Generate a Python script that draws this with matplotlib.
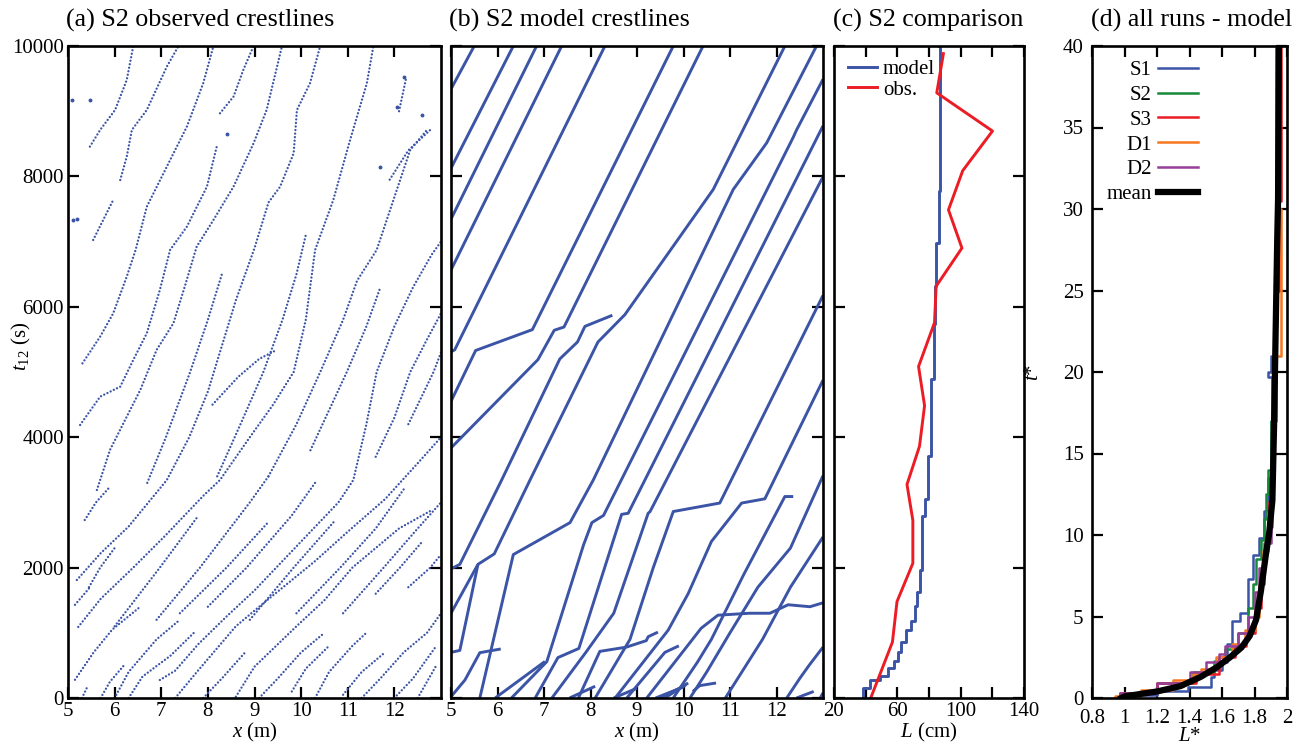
import matplotlib
matplotlib.use("Agg")
import matplotlib.pyplot as plt

plt.rcParams['font.family'] = ['Liberation Serif', 'DejaVu Serif']
plt.rcParams['mathtext.fontset'] = 'custom'
plt.rcParams['mathtext.rm'] = 'Liberation Serif'
plt.rcParams['mathtext.it'] = 'Liberation Serif:italic'

BLUE = '#3b54a6'
RED = '#ec1c24'

# (a) observed crestlines, (x m, t s) vertices
obs_lines = [
    [(5.15, 280), (5.55, 700), (5.95, 1050), (6.55, 1400)],
    [(5.22, 1090), (5.7, 1520), (6.4, 2000), (7.1, 2500), (7.9, 3100), (8.26, 3344), (8.9, 4000), (9.4, 4500), (9.84, 5000), (10.1, 5800), (10.30, 6872), (10.69, 7639), (11.05, 8559), (11.41, 9428), (11.55, 10000)],
    [(5.19, 1810), (5.7, 2220), (6.3, 2630), (7.12, 3344), (7.6, 4000), (8.0, 4700), (8.3, 5400), (8.6, 6100), (9.0, 6900), (9.3, 7600), (9.55, 7843), (9.84, 8355), (9.91, 9019), (10.19, 9428), (10.41, 10000)],
    [(5.36, 2730), (5.6, 3000), (5.9, 3240)],
    [(5.15, 1430), (5.45, 1680)],
    [(5.45, 1700), (5.69, 2000), (6.0, 2300)],
    [(6.0, 1100), (6.97, 2000), (7.8, 2800)],
    [(6.9, 1200), (7.83, 2000), (8.9, 3000), (9.3, 3400)],
    [(7.4, 1300), (8.4, 2000), (9.3, 2700)],
    [(8.0, 1400), (8.83, 2000), (9.8, 2800), (10.3, 3300)],
    [(8.9, 1200), (9.84, 2000), (10.7, 2700)],
    [(9.9, 1300), (10.84, 2000), (11.6, 2600), (12.2, 3200)],
    [(10.9, 1300), (11.77, 2000), (12.5, 2600), (13.0, 3000)],
    [(11.6, 1600), (12.12, 2000), (12.6, 2400)],
    [(12.3, 1700), (12.77, 2000), (13.0, 2200)],
    [(6.0, 0), (6.3, 400), (6.9, 900), (7.4, 1200)],
    [(6.3, 0), (6.6, 330), (7.2, 650), (7.7, 1000)],
    [(5.7, 0), (5.9, 250), (6.2, 500)],
    [(5.3, 0), (5.4, 150)],
    [(6.97, 276), (7.3, 420), (7.8, 830), (8.4, 1250), (9.0, 1650), (9.6, 2100), (10.2, 2550), (10.8, 3000), (11.12, 3344), (11.4, 4200), (11.62, 5000), (12.0, 5700), (12.4, 6300), (12.8, 6800), (13.0, 7000)],
    [(7.3, 0), (7.8, 430), (8.6, 1100), (9.1, 1400), (10.3, 2100), (11.0, 2550), (11.8, 3050), (12.5, 3600), (13.0, 4000)],
    [(7.9, 0), (8.3, 300), (8.8, 700)],
    [(8.6, 20), (9.0, 480), (9.9, 1100), (10.5, 1500), (11.1, 2000), (12.1, 2600), (12.8, 2880)],
    [(9.1, 0), (9.5, 300), (10.0, 700), (10.5, 1000)],
    [(9.8, 100), (10.1, 450), (10.6, 800)],
    [(10.3, 0), (10.6, 400), (11.1, 800), (11.4, 1000)],
    [(10.9, 50), (11.3, 400), (11.8, 700)],
    [(11.3, 0), (11.7, 300), (12.2, 700), (12.7, 1000), (13.0, 1300)],
    [(12.0, 0), (12.4, 300), (12.9, 800)],
    [(12.5, 0), (12.9, 500)],
    [(5.31, 5133), (5.69, 5543), (5.97, 5900), (6.26, 6463), (6.45, 6872), (6.69, 7536), (7.12, 8150), (7.55, 8764), (7.90, 9429), (8.12, 10000)],
    [(5.26, 4188), (5.69, 4622), (6.12, 4775), (6.40, 5185), (6.69, 5594), (6.97, 6258), (7.19, 6872), (7.55, 7230), (7.98, 7843), (8.19, 8457)],
    [(5.62, 3190), (5.90, 3804), (6.26, 4315), (6.55, 4724), (6.90, 5338), (7.26, 5747), (7.5, 6300), (7.76, 6923), (8.12, 7332), (8.55, 7843), (8.98, 8508), (9.26, 9019), (9.59, 10000)],
    [(6.7, 3300), (7.1, 4000), (7.62, 5000), (8.0, 5800), (8.3, 6500)],
    [(8.1, 4500), (8.65, 4925), (9.1, 5200), (9.48, 5340)],
    [(8.2, 3400), (8.7, 4200), (9.19, 5000), (9.6, 5800), (9.9, 6500), (10.1, 7100)],
    [(9.3, 3400), (9.9, 4200), (10.41, 5000), (10.9, 5800), (11.2, 6400), (11.62, 6872), (11.98, 7639), (12.34, 8406), (12.70, 8713)],
    [(10.2, 3800), (10.98, 5000), (11.4, 5700), (11.7, 6300)],
    [(11.6, 3700), (12.0, 4300), (12.34, 5000), (12.7, 5500), (13.0, 5900)],
    [(12.3, 4200), (12.84, 5000), (13.0, 5300)],
    [(5.47, 8457), (5.69, 8713), (6.01, 9019), (6.26, 9479), (6.40, 10000)],
    [(6.12, 7945), (6.26, 8303), (6.37, 8713), (6.69, 9019), (7.12, 9684), (7.37, 10000)],
    [(8.26, 8968), (8.55, 9224), (8.76, 9633), (8.98, 10000)],
    [(5.54, 7025), (5.97, 7639)],
    [(11.9, 7950), (12.3, 8400), (12.77, 8713)],
    [(12.1, 9000), (12.25, 9500)],
]
iso_x = [5.08, 5.47, 5.11, 5.2, 12.2, 12.05, 11.7, 8.4, 12.6]
iso_t = [9173, 9173, 7332, 7350, 9530, 9070, 8150, 8650, 8940]

# (b) model crestlines
mod_lines = [
    [(5.0, 9340), (5.50, 10000)],
    [(5.0, 8125), (6.34, 10000)],
    [(5.0, 7345), (6.84, 10000)],
    [(5.0, 6565), (7.38, 10000)],
    [(5.0, 5310), (5.08, 5340), (8.31, 10000)],
    [(5.0, 4550), (5.53, 5330), (6.75, 5650), (9.78, 10000)],
    [(5.0, 3835), (6.87, 5190), (7.22, 5640), (7.43, 5690), (10.42, 10000)],
    [(5.0, 700), (5.19, 730), (5.58, 2050)],
    [(5.0, 1300), (5.58, 2050), (5.93, 2210), (6.70, 3344), (8.16, 5460), (8.74, 5880), (10.64, 7800), (12.18, 10000)],
    [(5.0, 1980), (5.19, 2050), (6.09, 3344), (7.34, 5200), (7.72, 5460), (7.88, 5700), (8.47, 5870)],
    [(5.0, 20), (5.30, 276), (5.62, 695), (6.07, 752)],
    [(5.62, 0), (6.34, 2200), (7.56, 2690), (8.06, 3344), (11.07, 7800), (11.79, 8515), (12.86, 10000)],
    [(6.30, 0), (7.06, 557), (7.85, 2347), (8.03, 2690), (8.28, 2800), (12.36, 8600), (12.43, 8710), (13.0, 9490)],
    [(5.95, 0), (7.02, 560)],
    [(6.81, 0), (7.30, 620), (7.75, 760), (8.67, 2817), (8.81, 2833), (13.0, 8775)],
    [(7.17, 0), (7.9, 700), (8.5, 1300), (9.24, 2833), (9.28, 2858), (13.0, 7995)],
    [(7.74, 0), (8.20, 715), (8.77, 780), (9.20, 880), (9.24, 940), (9.45, 1010)],
    [(8.10, 0), (8.85, 900), (9.35, 2000), (9.78, 2860), (10.78, 2990), (13.0, 6175)],
    [(8.53, 0), (9.67, 1040), (10.1, 1600), (10.6, 2400), (11.25, 2990), (11.75, 3055), (13.0, 4875)],
    [(8.78, 0), (9.6, 700), (9.9, 800)],
    [(9.21, 0), (10.38, 1070), (10.74, 1270), (11.42, 1300), (11.86, 1300), (12.25, 1430), (12.72, 1400), (13.0, 1460)],
    [(9.78, 0), (10.3, 550), (10.6, 900), (11.3, 1900), (12.18, 3090), (12.36, 3090)],
    [(10.14, 0), (10.5, 400), (11.0, 1000), (11.6, 1700), (12.3, 2300), (13.0, 3410)],
    [(10.9, 0), (11.7, 900), (12.3, 1700), (13.0, 2470)],
    [(12.22, 0), (12.5, 300), (12.7, 500), (13.0, 780)],
    [(12.43, 0), (12.8, 100)],
    [(12.94, 0), (13.0, 80)],
    [(9.4, 0), (10.0, 170)],
    [(9.5, 0), (10.05, 200)],
    [(9.6, 0), (10.1, 230)],
    [(10.2, 100), (10.35, 190), (10.7, 230)],
    [(7.55, 0), (8.10, 180)],
    [(8.5, 0), (9.0, 150)],
]

# (c) comparison of crest spacing
model_L = [38.0, 42.6, 48.9, 54.1, 57.7, 60.4, 62.5, 65.7, 68.8, 70.9, 72.4, 74.0, 75.5, 77.2, 79.3, 81.4, 83.1, 83.5, 84.5, 86.0, 87.0, 86.6]
model_t = [0, 161, 271, 344, 454, 564, 711, 857, 1040, 1187, 1407, 1626, 1956, 2799, 3055, 3714, 4886, 5729, 6315, 6974, 7780, 10000]
obs_L = [43.2, 56.9, 59.8, 69.8, 69.8, 66.1, 74.0, 77.2, 73.4, 83.5, 84.5, 100.8, 92.3, 101.3, 120.1, 84.9, 89.1]
obs_t = [0, 857, 1480, 2066, 2725, 3275, 3861, 4484, 5084, 5758, 6315, 6901, 7487, 8088, 8696, 9282, 9883]

# (d) all runs, normalised
runs = ['S1', 'S2', 'S3', 'D1', 'D2']
run_colors = ['#3b54a6', '#17893b', '#ec1c24', '#f7771f', '#963f99']
run_L = [
    [0.97, 1.2, 1.39, 1.53, 1.55, 1.60, 1.63, 1.66, 1.71, 1.76, 1.79, 1.83, 1.86, 1.88, 1.90, 1.91, 1.885, 1.90, 1.935, 1.93, 1.935],
    [0.97, 1.2, 1.42, 1.55, 1.62, 1.70, 1.76, 1.79, 1.81, 1.84, 1.86, 1.87, 1.88, 1.90, 1.92, 1.93, 1.94, 1.95],
    [0.97, 1.2, 1.44, 1.58, 1.68, 1.75, 1.80, 1.84, 1.86, 1.87, 1.89, 1.91, 1.92, 1.93, 1.95, 1.96, 1.96],
    [0.94, 1.1, 1.3, 1.42, 1.47, 1.56, 1.66, 1.74, 1.80, 1.83, 1.85, 1.88, 1.90, 1.92, 1.93, 1.96, 1.95, 1.955],
    [0.97, 1.2, 1.4, 1.5, 1.58, 1.62, 1.70, 1.76, 1.80, 1.83, 1.86, 1.90, 1.91, 1.91, 1.92, 1.93, 1.94, 1.95],
]
run_t = [
    [0, 0.2, 0.4, 0.7, 1.3, 1.7, 2.2, 3.3, 4.7, 5.2, 7.3, 8.8, 9.8, 11.5, 13.5, 17.0, 19.7, 20.0, 21.0, 30.0, 40],
    [0, 0.3, 0.9, 1.6, 2.3, 3.0, 4.0, 5.5, 7.0, 8.5, 9.7, 11.0, 12.5, 14.0, 17, 22, 30, 40],
    [0, 0.3, 0.9, 1.5, 2.5, 3.2, 4.0, 5.5, 7.0, 8.5, 10.0, 12, 15, 17, 25, 30.5, 40],
    [0, 0.15, 0.5, 1.1, 1.5, 1.8, 2.5, 3.3, 4.2, 5.0, 7.0, 9.0, 11, 14, 18.5, 21, 30, 40],
    [0, 0.3, 0.9, 1.6, 2.2, 2.7, 3.2, 4.0, 5.0, 6.5, 8.0, 9.5, 10.5, 13, 15, 20, 30, 40],
]
mean_L = [0.98, 1.0, 1.2, 1.345, 1.47, 1.57, 1.65, 1.72, 1.77, 1.81, 1.84, 1.87, 1.89, 1.91, 1.92, 1.93, 1.94, 1.945, 1.95]
mean_t = [0, 0.1, 0.4, 0.73, 1.3, 1.9, 2.5, 3.1, 3.8, 4.8, 6.6, 8.8, 10.1, 12.1, 16.5, 22.4, 28.2, 30.6, 40]

fig = plt.figure(figsize=(12.97, 7.45), dpi=100)
W, H = 1297, 745
bot, hgt = 47 / H, 652 / H
ax_a = fig.add_axes([68 / W, bot, 373 / W, hgt])
ax_b = fig.add_axes([451 / W, bot, 372 / W, hgt])
ax_c = fig.add_axes([834 / W, bot, 190 / W, hgt])
ax_d = fig.add_axes([1092 / W, bot, 195 / W, hgt])


def style(ax, title):
    for s in ax.spines.values():
        s.set_linewidth(1.9)
    ax.tick_params(which='both', direction='in', top=True, right=True,
                   length=8, width=1.6, labelsize=15, pad=3)
    ax.set_title(title, fontsize=18.7, pad=14, loc='left', x=-0.005)


# (a)
for ln in obs_lines:
    xs = [p[0] for p in ln]
    ts = [p[1] for p in ln]
    ax_a.plot(xs, ts, color=BLUE, lw=1.7, ls=(0, (0.01, 1.5)),
              dash_capstyle='round')
ax_a.plot(iso_x, iso_t, 'o', color=BLUE, ms=1.8, ls='none')
ax_a.set_xlim(5, 13)
ax_a.set_ylim(0, 10000)
ax_a.set_xticks(range(5, 13))
ax_a.set_yticks(range(0, 10001, 2000))
ax_a.set_xlabel('$x$ (m)', fontsize=15, labelpad=0)
ax_a.set_ylabel('$t_{12}$ (s)', fontsize=15)
ax_a.yaxis.set_label_coords(-0.095, 0.54)
style(ax_a, '(a) S2 observed crestlines')

# (b)
for ln in mod_lines:
    xs = [p[0] for p in ln]
    ts = [p[1] for p in ln]
    ax_b.plot(xs, ts, color=BLUE, lw=2.1, solid_capstyle='butt')
ax_b.set_xlim(5, 13)
ax_b.set_ylim(0, 10000)
ax_b.set_xticks(range(5, 13))
ax_b.set_yticks(range(0, 10001, 2000))
ax_b.set_yticklabels([])
ax_b.set_xlabel('$x$ (m)', fontsize=15, labelpad=0)
style(ax_b, '(b) S2 model crestlines')

# (c)
ax_c.plot(model_L, model_t, color=BLUE, lw=2.1, drawstyle='steps-pre', label='model')
ax_c.plot(obs_L, obs_t, color=RED, lw=2.1, label='obs.')
ax_c.set_xlim(20, 140)
ax_c.set_ylim(0, 10000)
ax_c.set_xticks([20, 60, 100, 140])
ax_c.set_xticks([40, 80, 120], minor=True)
ax_c.set_yticks(range(0, 10001, 2000))
ax_c.set_yticklabels([])
ax_c.set_xlabel('$L$ (cm)', fontsize=15, labelpad=0)
ax_c.legend(loc='upper left', frameon=False, fontsize=15, handlelength=1.4,
            handletextpad=0.3, borderaxespad=0.25, labelspacing=0.05)
style(ax_c, '(c) S2 comparison')

# (d)
for name, col, L, t in zip(runs, run_colors, run_L, run_t):
    ax_d.plot(L, t, color=col, lw=1.8, drawstyle='steps-pre', label=name)
ax_d.plot(mean_L, mean_t, color='black', lw=4.5, label='mean')
ax_d.set_xlim(0.8, 2)
ax_d.set_ylim(0, 40)
xt = [0.8, 1.0, 1.2, 1.4, 1.6, 1.8, 2.0]
ax_d.set_xticks(xt)
ax_d.set_xticklabels(['0.8', '1', '1.2', '1.4', '1.6', '1.8', '2'])
ax_d.set_yticks(range(0, 41, 5))
ax_d.set_xlabel('$L$*', fontsize=15, labelpad=-1)
ax_d.set_ylabel('$t$*', fontsize=15)
ax_d.yaxis.set_label_coords(-0.25, 0.5)
ax_d.legend(loc='upper left', frameon=False, fontsize=15, markerfirst=False,
            handlelength=1.9, handletextpad=0.3, borderaxespad=0.3,
            labelspacing=0.25, bbox_to_anchor=(0.0, 1.0))
style(ax_d, '(d) all runs - model')
ax_d.tick_params(axis='x', pad=8)
ax_d.tick_params(axis='y', pad=6)

fig.savefig('out.png', dpi=100)
